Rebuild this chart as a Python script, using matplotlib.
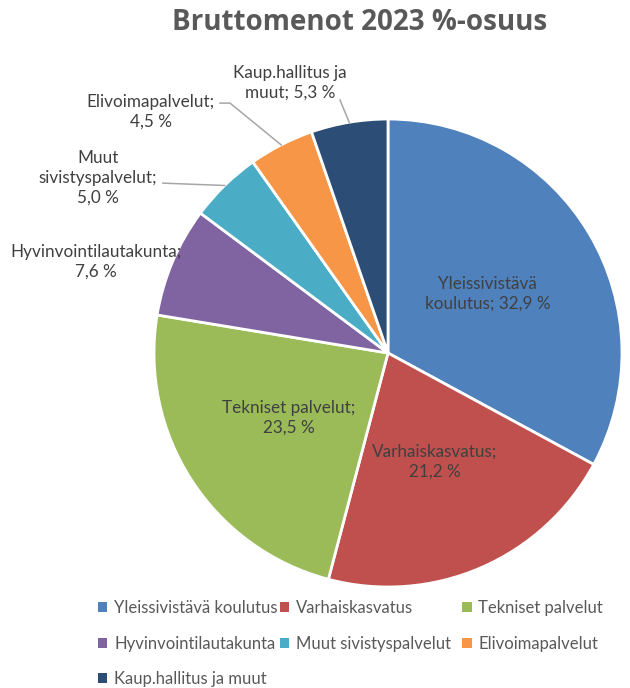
import numpy as np
import matplotlib.pyplot as plt
from matplotlib.patches import Patch

# data
categories = ["Yleissivistävä koulutus", "Varhaiskasvatus", "Tekniset palvelut",
              "Hyvinvointilautakunta", "Muut sivistyspalvelut", "Elivoimapalvelut",
              "Kaup.hallitus ja muut"]
shares = [32.9, 21.2, 23.5, 7.6, 5.0, 4.5, 5.3]
slice_labels = ["Yleissivistävä\nkoulutus; 32,9 %", "Varhaiskasvatus;\n21,2 %",
                "Tekniset palvelut;\n23,5 %", "Hyvinvointilautakunta;\n7,6 %",
                "Muut\nsivistyspalvelut;\n5,0 %", "Elivoimapalvelut;\n4,5 %",
                "Kaup.hallitus ja\nmuut; 5,3 %"]
colors = ["#4F81BD", "#C0504D", "#9BBB59", "#8064A2", "#4BACC6", "#F79646", "#2C4D75"]

plt.rcParams['font.family'] = ['Lato', 'DejaVu Sans']

fig = plt.figure(figsize=(6.3, 6.88), dpi=100)
ax = fig.add_axes([0.2444, 0.1468, 0.7429, 0.6802])
wedges, _ = ax.pie(shares, colors=colors, startangle=90, counterclock=False,
                   wedgeprops=dict(edgecolor="white", linewidth=2))
ax.set_xlim(-1, 1)
ax.set_ylim(-1, 1)
ax.set_aspect("equal")
ax.axis("off")

# label positions (data units, relative to pie centre)
label_pos = [(0.427, 0.252), (0.20, -0.466), (-0.423, -0.278), (-1.248, 0.389),
             (-1.239, 0.748), (-1.013, 1.03), (-0.419, 1.154)]
for lab, (lx, ly) in zip(slice_labels, label_pos):
    ax.text(lx, ly, lab, ha="center", va="center", fontsize=12.3,
            color="#404040", linespacing=1.3)

# leader lines for the small slices
def edge(w, r=1.0):
    a = np.deg2rad((w.theta1 + w.theta2) / 2)
    return r * np.cos(a), r * np.sin(a)

lc = "#A6A6A6"
ex, ey = edge(wedges[4])
ax.plot([-0.962, ex], [0.726, ey], color=lc, lw=1.1, clip_on=False)
ex, ey = edge(wedges[5])
ax.plot([-0.718, -0.675, ex], [1.068, 1.068, ey], color=lc, lw=1.1, clip_on=False)
ex, ey = edge(wedges[6])
ax.plot([-0.205, ex], [1.081, ey], color=lc, lw=1.1, clip_on=False)

fig.text(0.570, 0.968, "Bruttomenot 2023 %-osuus", ha="center", va="center",
         fontsize=20, fontweight="bold", color="#595959", family="Open Sans")

# legend: three equal-width columns, filled row by row
handles = [Patch(facecolor=c, edgecolor="none") for c in colors]
col_x = [0.156, 0.444, 0.734]
for j, x in enumerate(col_x):
    idx = list(range(j, len(categories), 3))
    fig.legend([handles[i] for i in idx], [categories[i] for i in idx],
               loc="upper left", bbox_to_anchor=(x, 0.128), frameon=False,
               fontsize=12, labelcolor="#595959", borderaxespad=0, borderpad=0,
               handlelength=0.55, handleheight=0.55, handletextpad=0.4,
               labelspacing=1.18)

fig.savefig("out.png", dpi=100)
